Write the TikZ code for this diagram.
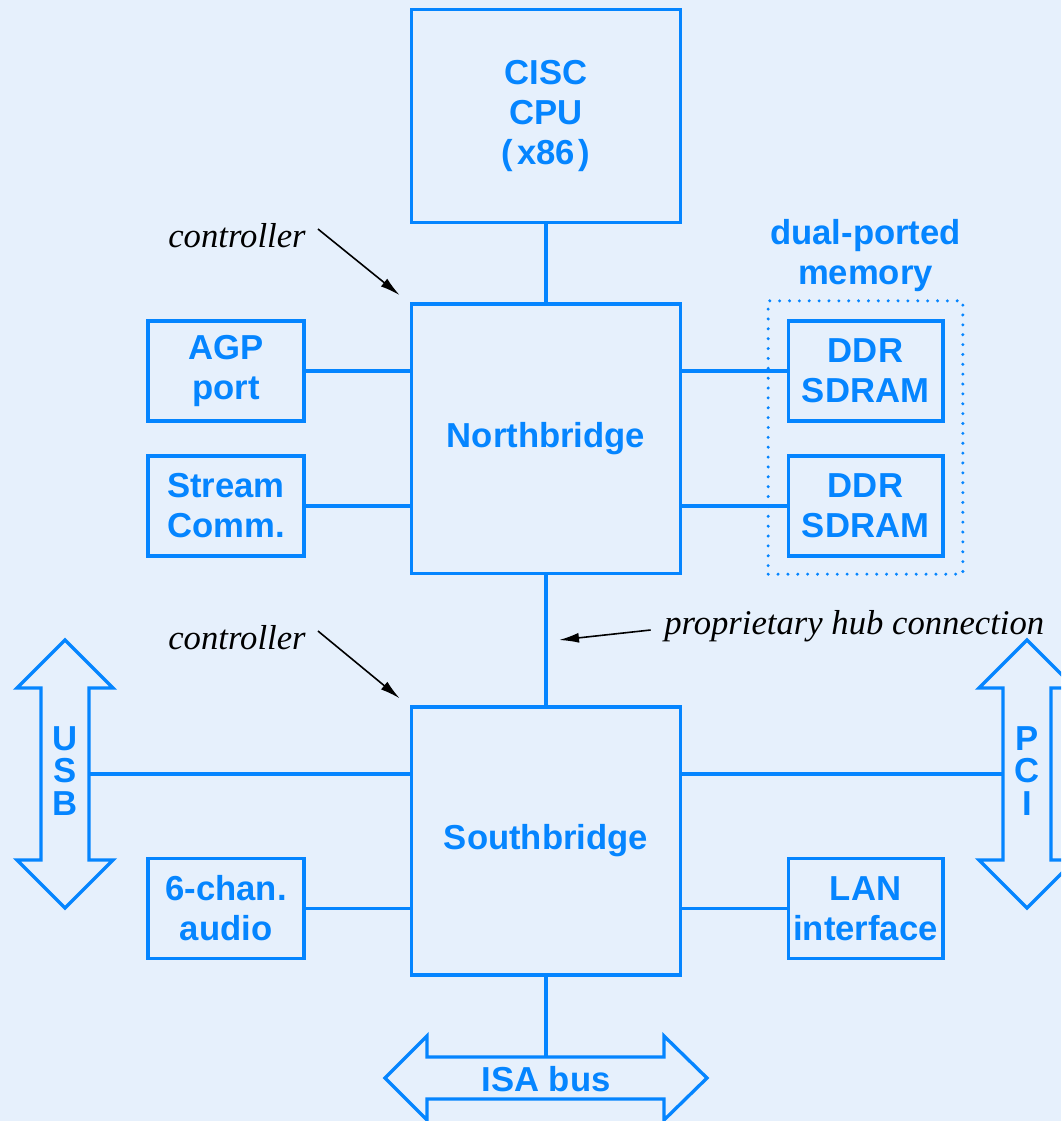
\documentclass[tikz,border=0pt]{standalone}
\usepackage{fontspec}
\setmainfont{Liberation Serif}
\setsansfont{Liberation Sans}
\usetikzlibrary{arrows.meta,positioning,calc}
\definecolor{Wire}{HTML}{0585FF}
\definecolor{Paper}{HTML}{E6F0FC}
\tikzset{
  unit/.style={draw=Wire,line width=2.5pt,align=center,text=Wire,
    font=\sffamily\bfseries\fontsize{26}{30}\selectfont,inner sep=0pt},
  wire/.style={draw=Wire,line width=2.5pt},
  bus/.style={draw=Wire,line width=2.5pt,line join=miter},
  busname/.style={text=Wire,align=center,inner sep=0pt,
    font=\sffamily\bfseries\fontsize{26}{24.5}\selectfont},
  remark/.style={font=\itshape\fontsize{26}{30}\selectfont,inner sep=0pt},
  pointer/.style={-{Latex[length=15pt,width=7.5pt]},line width=1.2pt,black}
}
\begin{document}
\begin{tikzpicture}[x=0.75pt,y=-0.75pt]
\useasboundingbox (0,0) rectangle (1061,1121);
\fill[Paper] (0,0) rectangle (1061,1121);
\clip (0,0) rectangle (1061,1121);
% chips
\node[unit,minimum width=202pt,minimum height=160pt] (cpu) at (546,116) {CISC\\CPU\\{\spaceskip=3pt ( x86 )}};
\node[unit,minimum width=202pt,minimum height=202pt] (nb) at (546,438.5) {Northbridge};
\node[unit,minimum width=202pt,minimum height=201pt] (sb) at (546,841) {Southbridge};
\node[unit,minimum width=117pt,minimum height=75pt] (agp) at (226,371) {AGP\\port};
\node[unit,minimum width=117pt,minimum height=75pt] (stream) at (226,506) {Stream\\Comm.};
\node[unit,minimum width=116pt,minimum height=75pt] (ddra) at (865.5,371) {DDR\\SDRAM};
\node[unit,minimum width=116pt,minimum height=75pt] (ddrb) at (865.5,506) {DDR\\SDRAM};
\node[unit,minimum width=117pt,minimum height=75pt] (audio) at (226,908.5) {6-chan.\\audio};
\node[unit,minimum width=116pt,minimum height=75pt] (lan) at (865.5,908.5) {LAN\\interface};
% memory group
\node[draw=Wire,line width=2.5pt,dash pattern=on 0pt off 7.4pt,line cap=round,
  minimum width=146pt,minimum height=205pt] (mem) at (865.5,437.5) {};
\node[unit,draw=none] (memname) at (865.5,256) {dual-ported\\memory};
% buses
\draw[bus] (65,640) -- (113,688) -- (89,688) -- (89,860) -- (113,860) -- (65,908)
  -- (17,860) -- (41,860) -- (41,688) -- (17,688) -- cycle;
\node[busname] (usb) at (65,771) {U\\S\\B};
\coordinate (usbport) at (89,774);
\draw[bus] (1027,640) -- (1075,688) -- (1051,688) -- (1051,860) -- (1075,860) -- (1027,908)
  -- (979,860) -- (1003,860) -- (1003,688) -- (979,688) -- cycle;
\node[busname] (pci) at (1027,771) {P\\C\\I};
\coordinate (pciport) at (1003,774);
\draw[bus] (385,1078) -- (427,1036) -- (427,1057) -- (664,1057) -- (664,1036) -- (707,1078)
  -- (664,1120) -- (664,1099) -- (427,1099) -- (427,1120) -- cycle;
\node[busname] (isa) at (546,1079) {ISA bus};
\coordinate (isaport) at (546,1057);
% links
\draw[wire] (cpu) -- (nb);
\draw[wire] (agp) -- (agp -| nb.west);
\draw[wire] (stream) -- (stream -| nb.west);
\draw[wire] (ddra) -- (ddra -| nb.east);
\draw[wire] (ddrb) -- (ddrb -| nb.east);
\draw[Wire,line width=3.6pt] (nb) -- (sb);
\draw[wire] (usbport) -- (usbport -| sb.west);
\draw[wire] (pciport) -- (pciport -| sb.east);
\draw[wire] (audio) -- (audio -| sb.west);
\draw[wire] (lan) -- (lan -| sb.east);
\draw[wire] (sb) -- (isaport);
% remarks
\node[remark] (ctrlnb) at (237,236) {controller};
\draw[pointer] ([shift={(12,-7)}]ctrlnb.east) -- ([shift={(-10,-7)}]nb.north west);
\node[remark] (ctrlsb) at (237,638) {controller};
\draw[pointer] ([shift={(12,-7)}]ctrlsb.east) -- ([shift={(-10,-7)}]sb.north west);
\node[remark,anchor=west] (hub) at (664,626) {proprietary hub connection};
\coordinate (hubend) at (559,640);
\draw[pointer] ([xshift=-10pt,yshift=-3pt]hub.west) -- (hubend);
\end{tikzpicture}
\end{document}
